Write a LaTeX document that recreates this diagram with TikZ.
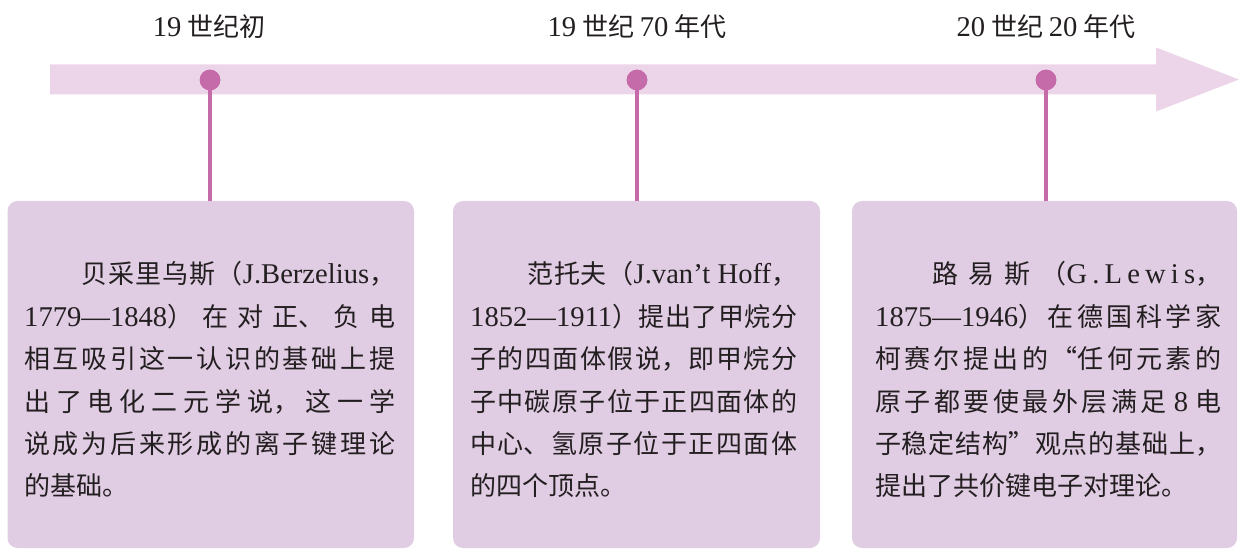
\documentclass[tikz,border=0pt]{standalone}
\usepackage{fontspec}
\setmainfont{Noto Sans CJK SC}
\newfontfamily\latfont[Scale=1.1]{Liberation Serif}
\newfontfamily\latwide[Scale=1.1, LetterSpace=18]{Liberation Serif}
\usepackage{tikz}
\usetikzlibrary{positioning, calc}
\XeTeXlinebreaklocale "zh"
\XeTeXlinebreakskip=0pt plus 8pt
\definecolor{tlbar}{HTML}{ECD5E8}
\definecolor{tlmark}{HTML}{C66BAA}
\definecolor{tlbox}{HTML}{E0CCE3}
\definecolor{tltext}{HTML}{231F20}
\newcommand{\lat}[1]{{\latfont #1}}
\newcommand{\latsp}[1]{{\latwide #1}}
\newcommand{\years}[2]{\mbox{\latfont #1—#2}}
\tikzset{
eralabel/.style={
font=\fontsize{26}{30}\selectfont,
text=tltext,
anchor=base,
inner sep=0pt
},
eventdot/.style={
circle,
fill=tlmark,
minimum size=20.6pt,
inner sep=0pt
},
stemline/.style={
draw=tlmark,
line width=4.5pt
},
card/.style={
fill=tlbox,
rounded corners=10pt,
minimum height=347pt,
inner sep=0pt
},
cardtext/.style={
font=\fontsize{26}{42.4}\selectfont,
text=tltext,
align=justify,
anchor=base west,
inner sep=0pt
}
}

\begin{document}
\begin{tikzpicture}[x=1pt, y=1pt]
\useasboundingbox (0,0) rectangle (1239,549);

% timeline
\fill[tlbar] (50,484.5) -- (1156,484.5) -- (1156,501.5) -- (1239,469.5)
  -- (1156,437.5) -- (1156,454.5) -- (50,454.5) -- cycle;

\node[eralabel] (era1) at (209,512) {\lat{19} 世纪初};
\node[eralabel] (era2) at (637,512) {\lat{19} 世纪 \lat{70} 年代};
\node[eralabel] (era3) at (1046,512) {\lat{20} 世纪 \lat{20} 年代};

\node[card, minimum width=406.5pt] (card1) at (210.75,174.5) {};
\node[card, minimum width=367pt] (card2) at (636.5,174.5) {};
\node[card, minimum width=385pt] (card3) at (1044.5,174.5) {};

\node[eventdot] (dot1) at (210,469) {};
\node[eventdot] (dot2) at (637,469) {};
\node[eventdot] (dot3) at (1046,469) {};

\draw[stemline] (dot1.center) -- (dot1 |- card1.north);
\draw[stemline] (dot2.center) -- (dot2 |- card2.north);
\draw[stemline] (dot3.center) -- (dot3 |- card3.north);
\node[eventdot] at (dot1) {};
\node[eventdot] at (dot2) {};
\node[eventdot] at (dot3) {};

\node[cardtext, text width=371pt] (text1) at (24,265) {\noindent\hspace*{2.2em}贝采里乌斯（\lat{J.Berzelius}，\linebreak
\years{1779}{1848}）在对正、负电\linebreak
相互吸引这一认识的基础上提\linebreak
出了电化二元学说，这一学\linebreak
说成为后来形成的离子键理论\linebreak
的基础。};

\node[cardtext, text width=327pt] (text2) at (470,265) {\noindent\hspace*{2.2em}范托夫（\lat{J.van’t Hoff}，\linebreak
\years{1852}{1911}）提出了甲烷分\linebreak
子的四面体假说，即甲烷分\linebreak
子中碳原子位于正四面体的\linebreak
中心、氢原子位于正四面体\linebreak
的四个顶点。};

\node[cardtext, text width=346pt] (text3) at (875,265) {\noindent\hspace*{2.2em}路易斯（\latsp{G.Lewis}，\linebreak
\years{1875}{1946}）在德国科学家\linebreak
柯赛尔提出的“任何元素的\linebreak
原子都要使最外层满足 \lat{8} 电\linebreak
子稳定结构”观点的基础上，\linebreak
提出了共价键电子对理论。};

\end{tikzpicture}
\end{document}
